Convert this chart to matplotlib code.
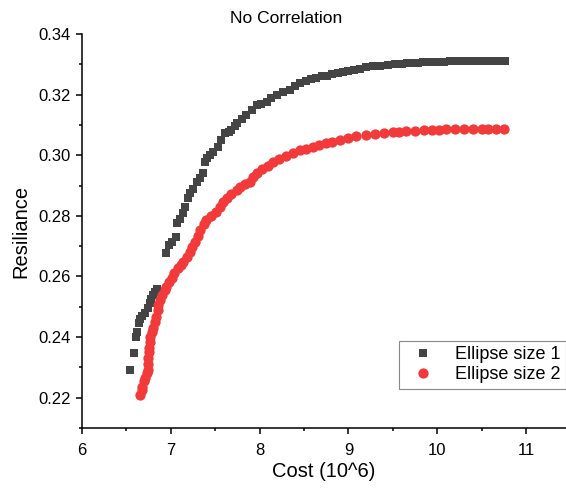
import matplotlib
matplotlib.use('Agg')
import matplotlib.pyplot as plt
from matplotlib.ticker import MultipleLocator

plt.rcParams['font.family'] = ['Liberation Sans', 'DejaVu Sans']

# Ellipse size 1 (squares)
cost1 = [6.54, 6.58, 6.61, 6.62, 6.64, 6.65, 6.68, 6.71, 6.74, 6.76, 6.78, 6.80,
         6.82, 6.84, 6.95, 6.98, 7.01, 7.06, 7.07, 7.10, 7.14, 7.16, 7.19, 7.21,
         7.25, 7.29, 7.33, 7.36, 7.38, 7.41, 7.44, 7.48, 7.53, 7.57, 7.61, 7.65,
         7.68, 7.72, 7.75, 7.80, 7.85, 7.91, 7.97, 8.02, 8.08, 8.13, 8.19, 8.26,
         8.34, 8.40, 8.45, 8.52, 8.58, 8.64, 8.70, 8.76, 8.82, 8.88, 8.94, 8.99,
         9.06, 9.13, 9.20, 9.28, 9.36, 9.44, 9.52, 9.60, 9.66, 9.72, 9.78, 9.84,
         9.90, 9.96, 10.02, 10.08, 10.14, 10.20, 10.26, 10.32, 10.38, 10.44,
         10.50, 10.56, 10.62, 10.68, 10.72, 10.76]
res1 = [0.2292, 0.2348, 0.2400, 0.2415, 0.2445, 0.2460, 0.2468, 0.2480, 0.2495,
        0.2513, 0.2525, 0.2538, 0.2549, 0.2558, 0.2678, 0.2704, 0.2712, 0.2731,
        0.2777, 0.2790, 0.2810, 0.2830, 0.2860, 0.2876, 0.2890, 0.2910, 0.2925,
        0.2940, 0.2978, 0.2990, 0.3000, 0.3012, 0.3027, 0.3050, 0.3073, 0.3078,
        0.3083, 0.3095, 0.3107, 0.3120, 0.3133, 0.3150, 0.3166, 0.3170, 0.3176,
        0.3188, 0.3200, 0.3207, 0.3215, 0.3228, 0.3238, 0.3245, 0.3250, 0.3255,
        0.3260, 0.3263, 0.3267, 0.3271, 0.3274, 0.3277, 0.3282, 0.3286, 0.3290,
        0.3293, 0.3296, 0.3298, 0.3300, 0.3302, 0.3303, 0.3304, 0.3305, 0.3306,
        0.3307, 0.3308, 0.3309, 0.3309, 0.3310, 0.3310, 0.3311, 0.3311, 0.3311,
        0.3311, 0.3312, 0.3312, 0.3312, 0.3312, 0.3312, 0.3312]

# Ellipse size 2 (circles)
cost2 = [6.65, 6.67, 6.68, 6.70, 6.71, 6.73, 6.74, 6.74, 6.74, 6.75, 6.75, 6.76,
         6.77, 6.79, 6.80, 6.82, 6.83, 6.85, 6.86, 6.88, 6.90, 6.93, 6.95, 6.98,
         7.01, 7.04, 7.08, 7.11, 7.14, 7.18, 7.21, 7.24, 7.27, 7.30, 7.33, 7.37,
         7.40, 7.45, 7.51, 7.55, 7.59, 7.63, 7.68, 7.74, 7.78, 7.84, 7.89, 7.93,
         7.97, 8.03, 8.09, 8.15, 8.22, 8.30, 8.37, 8.45, 8.52, 8.60, 8.67, 8.75,
         8.82, 8.90, 8.99, 9.08, 9.20, 9.30, 9.40, 9.50, 9.57, 9.65, 9.75, 9.85,
         9.94, 10.02, 10.10, 10.20, 10.30, 10.40, 10.50, 10.57, 10.66, 10.75]
res2 = [0.2210, 0.2225, 0.2236, 0.2255, 0.2266, 0.2280, 0.2292, 0.2312, 0.2332,
        0.2350, 0.2365, 0.2385, 0.2400, 0.2418, 0.2430, 0.2450, 0.2467, 0.2488,
        0.2507, 0.2522, 0.2540, 0.2555, 0.2566, 0.2582, 0.2596, 0.2612, 0.2628,
        0.2638, 0.2649, 0.2665, 0.2681, 0.2698, 0.2714, 0.2735, 0.2754, 0.2772,
        0.2787, 0.2800, 0.2813, 0.2830, 0.2845, 0.2859, 0.2872, 0.2886, 0.2896,
        0.2905, 0.2912, 0.2928, 0.2942, 0.2955, 0.2966, 0.2978, 0.2988, 0.2998,
        0.3008, 0.3016, 0.3022, 0.3028, 0.3034, 0.3040, 0.3044, 0.3050, 0.3057,
        0.3062, 0.3067, 0.3071, 0.3074, 0.3076, 0.3077, 0.3079, 0.3081, 0.3082,
        0.3083, 0.3084, 0.3085, 0.3085, 0.3086, 0.3086, 0.3086, 0.3087, 0.3087,
        0.3087]


def main():
    fig = plt.figure(figsize=(5.66, 4.93), dpi=100)
    ax = fig.add_axes([0.145, 0.132, 0.855, 0.799])

    ax.plot(cost1, res1, linestyle='none', marker='s', markersize=6.4,
            color='#444444', markeredgewidth=0, label='Ellipse size 1')
    ax.plot(cost2, res2, linestyle='none', marker='o', markersize=7.4,
            color='#F23A3A', markeredgewidth=0, label='Ellipse size 2')

    ax.set_xlim(6, 11.45)
    ax.set_ylim(0.21, 0.34)
    ax.xaxis.set_major_locator(MultipleLocator(1))
    ax.xaxis.set_minor_locator(MultipleLocator(0.5))
    ax.yaxis.set_major_locator(MultipleLocator(0.02))
    ax.yaxis.set_minor_locator(MultipleLocator(0.01))
    ax.yaxis.set_major_formatter(plt.FormatStrFormatter('%.2f'))

    for s in ['top', 'right']:
        ax.spines[s].set_visible(False)
    for s in ['left', 'bottom']:
        ax.spines[s].set_linewidth(1.1)
    ax.tick_params(which='major', length=4.5, width=1.1, labelsize=12,
                   direction='out')
    ax.tick_params(axis='x', which='major', pad=6)
    ax.tick_params(which='minor', length=2.5, width=1.1, direction='out')

    ax.set_xlabel('Cost (10^6)', fontsize=14.5, labelpad=3)
    ax.set_ylabel('Resiliance', fontsize=14.5, labelpad=6)
    fig.text(0.505, 0.962, 'No Correlation', fontsize=12.5, ha='center', va='center')

    leg = ax.legend(loc='lower right', bbox_to_anchor=(1.0, 0.1), fontsize=13,
                    frameon=True, fancybox=False, edgecolor='#888888',
                    framealpha=1, borderpad=0.3, handletextpad=0.8,
                    labelspacing=0.15, borderaxespad=0)
    leg.get_frame().set_linewidth(0.8)

    plt.savefig('out.png', dpi=100)


if __name__ == '__main__':
    main()
